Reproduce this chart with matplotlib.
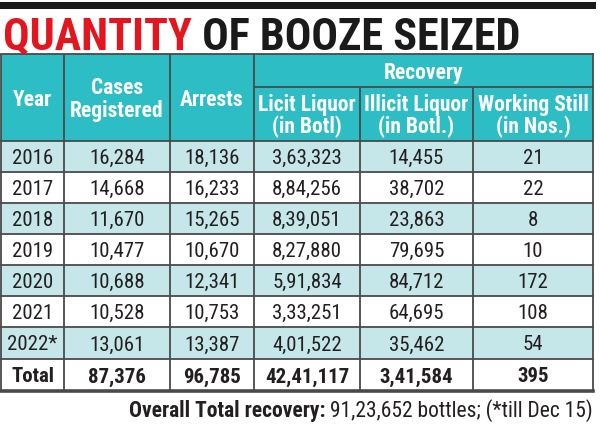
import matplotlib
matplotlib.use("Agg")
import matplotlib.pyplot as plt
from matplotlib.patches import Rectangle
from matplotlib import font_manager as fm

# ---------------- data ----------------
years = ['2016', '2017', '2018', '2019', '2020', '2021', '2022*']
cases = [16284, 14668, 11670, 10477, 10688, 10528, 13061]
arrests = [18136, 16233, 15265, 10670, 12341, 10753, 13387]
licit = [363323, 884256, 839051, 827880, 591834, 333251, 401522]
illicit = [14455, 38702, 23863, 79695, 84712, 64695, 35462]
still = [21, 22, 8, 10, 172, 108, 54]
totals = ['Total', 87376, 96785, 4241117, 341584, 395]
headers = ['Year', 'Cases\nRegistered', 'Arrests',
           'Licit Liquor\n(in Botl)', 'Illicit Liquor\n(in Botl.)', 'Working Still\n(in Nos.)']
group_label = 'Recovery'
title_red = 'QUANTITY'
title_black = 'OF BOOZE SEIZED'
footer_bold = 'Overall Total recovery:'
footer_rest = ' 91,23,652 bottles; (*till Dec 15)'


def inr(n):
    """Indian digit grouping."""
    if isinstance(n, str):
        return n
    s = str(n)
    if len(s) <= 3:
        return s
    last3, rest = s[-3:], s[:-3]
    groups = []
    while len(rest) > 2:
        groups.insert(0, rest[-2:])
        rest = rest[:-2]
    if rest:
        groups.insert(0, rest)
    return ','.join(groups) + ',' + last3


# ---------------- fonts ----------------
names = {f.name for f in fm.fontManager.ttflist}
narrow = None
for cand in ['Roboto Condensed', 'Liberation Sans Narrow', 'Open Sans Condensed',
             'DejaVu Sans Condensed', 'Liberation Sans']:
    if cand in names:
        narrow = cand
        break
if narrow is None:
    narrow = 'DejaVu Sans'
FONT = [narrow, 'DejaVu Sans']

# ---------------- colours ----------------
TEAL = '#2dbdc5'
LIGHT = '#c6e7ea'
LINE = '#4a4a4a'
TXT = '#231f20'
RED = '#e2161f'

fig = plt.figure(figsize=(6.0, 4.27), dpi=100)
ax = fig.add_axes([0, 0, 1, 1])
ax.set_xlim(0, 600)
ax.set_ylim(427, 0)
ax.axis('off')

# layout (pixels)
xb = [1, 64, 170, 254, 360, 473, 593]
top, sub, hbot = 55, 88, 142
row_edges = [142, 173, 204, 235, 266, 297, 328, 360, 392]

# top rule
ax.add_patch(Rectangle((0, 3), 596, 7, color='#1a1a1a', lw=0))

# header background
ax.add_patch(Rectangle((xb[0], top), xb[-1] - xb[0], hbot - top, color=TEAL, lw=0))

# body rows
columns = [years, cases, arrests, licit, illicit, still]
nrows = len(years)
for i in range(nrows + 1):
    y0, y1 = row_edges[i], row_edges[i + 1]
    face = LIGHT if (i % 2 == 0 and i < nrows) else 'white'
    ax.add_patch(Rectangle((xb[0], y0), xb[-1] - xb[0], y1 - y0, color=face, lw=0))

# lines
lw = 1.3
for x in xb[:4]:
    ax.plot([x, x], [top, row_edges[-1]], color=LINE, lw=lw, solid_capstyle='butt')
for x in xb[4:6]:
    ax.plot([x, x], [sub, row_edges[-1]], color=LINE, lw=lw, solid_capstyle='butt')
ax.plot([xb[-1], xb[-1]], [top, row_edges[-1]], color=LINE, lw=lw)
ax.plot([xb[0], xb[-1]], [top, top], color=LINE, lw=lw)
ax.plot([xb[3], xb[-1]], [sub, sub], color=LINE, lw=lw)
for y in row_edges[:-1]:
    ax.plot([xb[0], xb[-1]], [y, y], color=LINE, lw=lw)
ax.plot([xb[0], xb[-1]], [row_edges[-1], row_edges[-1]], color=LINE, lw=2.6)

# header text
hfs = 15.5
cx = [(xb[j] + xb[j + 1]) / 2 for j in range(6)]
for j in range(3):
    ax.text(cx[j], (top + hbot) / 2 + 1, headers[j], ha='center', va='center',
            color='white', fontsize=hfs, fontweight='bold', family=FONT,
            linespacing=1.0)
for j in range(3, 6):
    ax.text(cx[j], (sub + hbot) / 2 + 1, headers[j], ha='center', va='center',
            color='white', fontsize=hfs, fontweight='bold', family=FONT,
            linespacing=1.0)
ax.text((xb[3] + xb[-1]) / 2, (top + sub) / 2 + 1, group_label, ha='center',
        va='center', color='white', fontsize=hfs, fontweight='bold', family=FONT)

# body text
bfs = 15
for i in range(nrows):
    yc = (row_edges[i] + row_edges[i + 1]) / 2 + 1
    for j, col in enumerate(columns):
        ax.text(cx[j], yc, inr(col[i]), ha='center', va='center', color=TXT,
                fontsize=bfs, family=FONT)
yc = (row_edges[-2] + row_edges[-1]) / 2 + 1
for j, v in enumerate(totals):
    ax.text(cx[j], yc, inr(v), ha='center', va='center', color=TXT,
            fontsize=bfs, fontweight='bold', family=FONT)

# title, fitted to width
fig.canvas.draw()
r = fig.canvas.get_renderer()


def width_px(t):
    bb = t.get_window_extent(renderer=r)
    return bb.width


tfs = 40
t1 = ax.text(3, 50, title_red, ha='left', va='baseline', color=RED,
             fontsize=tfs, fontweight='black', family=FONT)
t2 = ax.text(0, 50, ' ' + title_black, ha='left', va='baseline', color='#1a1a1a',
             fontsize=tfs, fontweight='black', family=FONT)
w = width_px(t1) + width_px(t2)
scale = 517 / w
tfs2 = tfs * scale
t1.set_fontsize(tfs2)
t2.set_fontsize(tfs2)
fig.canvas.draw()
w1 = width_px(t1)
t2.set_x(3 + w1)

# footer
ffs = 15.5
f2 = ax.text(593, 411, footer_rest, ha='right', va='center', color=TXT,
             fontsize=ffs, family=FONT)
fig.canvas.draw()
wf = width_px(f2)
ax.text(593 - wf, 411, footer_bold, ha='right', va='center', color=TXT,
        fontsize=ffs, fontweight='bold', family=FONT)

fig.savefig('out.png', dpi=100)
